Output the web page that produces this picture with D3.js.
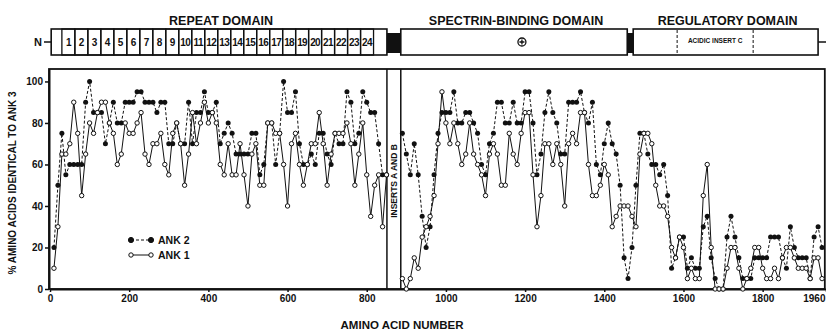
<!DOCTYPE html>
<html>
<head>
<meta charset="utf-8">
<script src="https://cdn.jsdelivr.net/npm/d3@7"></script>
<style>
  body { margin: 0; background: #fff; }
  text { font-family: "Liberation Sans", Arial, sans-serif; font-weight: bold; fill: #111; }
</style>
</head>
<body>
<div id="chart"></div>
<script>
"use strict";

// residue positions (amino acid number) of each comparison window
const posN = [10,20,30,40,50,60,70,80,90,100,110,120,130,140,150,160,170,180,190,200,
  210,220,230,240,250,260,270,280,290,300,310,320,330,340,350,360,370,380,390,400,
  410,420,430,440,450,460,470,480,490,500,510,520,530,540,550,560,570,580,590,600,
  610,620,630,640,650,660,670,680,690,700,710,720,730,740,750,760,770,780,790,800,
  810,820,830,840,850];
const ank2N = [20,50,75,55,60,60,60,60,90,100,85,85,85,70,80,90,80,80,90,90,
  90,95,95,90,90,90,85,90,90,70,70,80,70,70,90,70,85,85,95,85,
  85,90,70,75,80,75,65,65,65,65,75,75,55,60,80,80,60,75,100,85,
  85,95,70,60,60,65,60,75,75,65,60,75,70,70,95,90,70,75,95,90,
  85,85,70,55,55];
const ank1N = [10,30,65,65,70,90,75,45,65,80,75,85,90,90,80,75,60,65,80,75,
  75,80,85,65,60,70,70,75,60,55,75,80,70,50,65,85,70,80,90,80,
  85,80,60,55,70,55,55,70,55,40,65,70,50,50,80,80,75,75,60,40,
  70,75,60,50,60,70,70,85,70,50,65,75,75,75,80,70,50,65,80,55,
  35,50,55,30,55];

const posC = [890,900,910,920,930,940,950,960,970,980,990,1000,1010,1020,1030,1040,1050,1060,1070,1080,
  1090,1100,1110,1120,1130,1140,1150,1160,1170,1180,1190,1200,1210,1220,1230,1240,1250,1260,1270,1280,
  1290,1300,1310,1320,1330,1340,1350,1360,1370,1380,1390,1400,1410,1420,1430,1440,1450,1460,1470,1480,
  1490,1500,1510,1520,1530,1540,1550,1560,1570,1580,1590,1600,1610,1620,1630,1640,1650,1660,1670,1680,
  1690,1700,1710,1720,1730,1740,1750,1760,1770,1780,1790,1800,1810,1820,1830,1840,1850,1860,1870,1880,
  1890,1900,1910,1920,1930,1940,1950];
const ank2C = [75,65,55,70,55,35,20,30,55,75,85,85,85,95,80,80,85,85,80,75,
  60,55,70,75,90,90,80,80,90,80,80,95,95,80,55,65,85,95,85,80,
  65,65,90,90,90,95,85,80,90,60,55,70,80,70,65,50,15,5,20,50,
  75,75,65,60,60,55,60,45,10,15,25,25,10,15,10,10,30,35,15,5,
  0,0,25,35,25,15,5,5,5,15,15,15,15,25,25,25,15,10,30,20,
  15,15,15,5,25,30,20];
const ank1C = [5,0,5,15,10,25,30,35,45,70,95,80,70,80,70,60,65,80,65,60,
  55,45,65,70,65,50,50,75,65,60,75,85,85,55,30,45,70,70,60,70,
  60,40,70,75,70,85,85,60,45,45,50,60,55,30,35,40,40,40,35,30,
  65,75,75,70,50,40,40,35,20,15,25,20,5,10,5,5,45,60,20,0,
  0,0,10,20,20,10,0,5,10,20,20,10,5,5,10,5,15,20,20,15,
  10,10,10,5,15,15,5];

const xTicks = [0,200,400,600,800,1000,1200,1400,1600,1800,1960];
const yTicks = [0,20,40,60,80,100];

// protein domain map (amino acid numbers)
const domainNames = ["REPEAT DOMAIN", "SPECTRIN-BINDING DOMAIN", "REGULATORY DOMAIN"];
const domainStart = [3, 886, 1473];
const domainEnd = [851, 1458, 1940];
const linkerStart = [851, 1458];
const linkerEnd = [886, 1473];
const repeatLabels = ["1","2","3","4","5","6","7","8","9","10","11","12",
  "13","14","15","16","17","18","19","20","21","22","23","24"];
const repeatFirst = 30;
const repeatLength = 32.8;
const acidicInsert = [1584, 1776];
const chargeSite = 1192;
const insertAB = [851, 886];
const frameEnd = 1957;

const svgWidth = 826;
const svgHeight = 332;

const svg = d3.select("#chart")
  .append("svg")
  .attr("width", svgWidth)
  .attr("height", svgHeight)
;

const x = d3.scaleLinear().domain([0, 1960]).range([50, 826]);
const y = d3.scaleLinear().domain([0, 106]).range([289, 69]);

// ---- domain map ----
const boxTop = 29, boxH = 26, midY = 42;
const map = svg.append("g");

map.append("text")
  .attr("x", 38).attr("y", midY + 4)
  .attr("text-anchor", "middle")
  .style("font-size", "11px")
  .text("N");
map.append("line")
  .attr("x1", 44).attr("x2", x(domainStart[0]))
  .attr("y1", midY).attr("y2", midY)
  .attr("stroke", "#111").attr("stroke-width", 1.5);
map.append("line")
  .attr("x1", x(domainEnd[2])).attr("x2", 826)
  .attr("y1", midY).attr("y2", midY)
  .attr("stroke", "#111").attr("stroke-width", 1.5);

map.selectAll("rect.domain")
  .data(domainNames)
  .enter()
  .append("rect")
  .attr("class", "domain")
  .attr("x", (d, i) => x(domainStart[i]))
  .attr("y", boxTop)
  .attr("width", (d, i) => x(domainEnd[i]) - x(domainStart[i]))
  .attr("height", boxH)
  .attr("fill", "#fff")
  .attr("stroke", "#111")
  .attr("stroke-width", 1.6)
;

map.selectAll("text.dtitle")
  .data(domainNames)
  .enter()
  .append("text")
  .attr("class", "dtitle")
  .attr("x", (d, i) => (x(domainStart[i]) + x(domainEnd[i])) / 2 + 2)
  .attr("y", 24.5)
  .attr("text-anchor", "middle")
  .style("font-size", "12.5px")
  .text(d => d)
;

map.selectAll("rect.linker")
  .data(linkerStart)
  .enter()
  .append("rect")
  .attr("class", "linker")
  .attr("x", (d, i) => x(d))
  .attr("y", boxTop + 4)
  .attr("width", (d, i) => x(linkerEnd[i]) - x(d))
  .attr("height", boxH - 6)
  .attr("fill", "#111")
;

const repeats = map.selectAll("g.rep")
  .data(repeatLabels)
  .enter()
  .append("g")
  .attr("class", "rep")
;
repeats.append("rect")
  .attr("x", (d, i) => x(repeatFirst + i * repeatLength))
  .attr("y", boxTop)
  .attr("width", x(repeatLength) - x(0))
  .attr("height", boxH)
  .attr("fill", "none")
  .attr("stroke", "#111")
  .attr("stroke-width", 1.3)
;
repeats.append("text")
  .attr("x", (d, i) => x(repeatFirst + (i + 0.5) * repeatLength))
  .attr("y", midY + 3.8)
  .attr("text-anchor", "middle")
  .style("font-size", "10px")
  .style("letter-spacing", "-0.6px")
  .text(d => d)
;

map.selectAll("line.acidic")
  .data(acidicInsert)
  .enter()
  .append("line")
  .attr("class", "acidic")
  .attr("x1", d => x(d)).attr("x2", d => x(d))
  .attr("y1", boxTop + 1).attr("y2", boxTop + boxH - 1)
  .attr("stroke", "#111")
  .attr("stroke-dasharray", "3,2")
;
map.append("text")
  .attr("x", (x(acidicInsert[0]) + x(acidicInsert[1])) / 2)
  .attr("y", midY + 1)
  .attr("text-anchor", "middle")
  .style("font-size", "6.5px")
  .text("ACIDIC INSERT C");

map.append("circle")
  .attr("cx", x(chargeSite)).attr("cy", midY)
  .attr("r", 4).attr("fill", "none")
  .attr("stroke", "#111").attr("stroke-width", 1.3);
map.append("path")
  .attr("d", `M${x(chargeSite) - 2.5},${midY}H${x(chargeSite) + 2.5}M${x(chargeSite)},${midY - 2.5}V${midY + 2.5}`)
  .attr("stroke", "#111").attr("stroke-width", 1.3);

// ---- plot frame ----
svg.append("rect")
  .attr("x", x(0) - 1)
  .attr("y", y(106))
  .attr("width", x(frameEnd) - x(0) + 1)
  .attr("height", y(0) - y(106))
  .attr("fill", "none")
  .attr("stroke", "#111")
  .attr("stroke-width", 1.8)
;

svg.selectAll("line.insert")
  .data(insertAB)
  .enter()
  .append("line")
  .attr("class", "insert")
  .attr("x1", d => x(d)).attr("x2", d => x(d))
  .attr("y1", y(106)).attr("y2", y(0))
  .attr("stroke", "#111")
  .attr("stroke-width", 1.5)
;
svg.append("text")
  .attr("transform", `translate(${(x(insertAB[0]) + x(insertAB[1])) / 2 + 3}, 181) rotate(-90)`)
  .attr("text-anchor", "middle")
  .style("font-size", "8.5px")
  .text("INSERTS A AND B");

const xAxis = d3.axisBottom(x).tickValues(xTicks).tickFormat(d3.format("d"))
  .tickSize(3).tickSizeOuter(0).tickPadding(3);
const yAxis = d3.axisLeft(y).tickValues(yTicks).tickFormat(d3.format("d"))
  .tickSize(4).tickSizeOuter(0).tickPadding(2);

const gx = svg.append("g")
  .attr("transform", `translate(0, ${y(0)})`)
  .call(xAxis)
;
const gy = svg.append("g")
  .attr("transform", `translate(${x(0) - 1}, 0)`)
  .call(yAxis)
;
[gx, gy].forEach(g => {
  g.select(".domain").attr("stroke", "#111").attr("stroke-width", 2);
  g.selectAll(".tick line").attr("stroke", "#111").attr("stroke-width", 1.5);
  g.selectAll(".tick text")
    .style("font-size", "10px")
    .style("font-family", "'Liberation Sans', Arial, sans-serif")
    .style("font-weight", "bold")
    .attr("fill", "#111");
});
// the last tick sits on the right edge: keep its label inside the page
gx.selectAll(".tick text").filter(d => d === 1960)
  .attr("text-anchor", "end")
  .attr("dx", -1);

svg.append("text")
  .attr("x", 402).attr("y", 329)
  .attr("text-anchor", "middle")
  .style("font-size", "11.5px")
  .text("AMINO ACID NUMBER");
svg.append("text")
  .attr("transform", "translate(16, 183) rotate(-90)")
  .attr("text-anchor", "middle")
  .style("font-size", "10px")
  .text("% AMINO ACIDS IDENTICAL TO ANK 3");

// ---- series ----
const seriesN2 = posN.map((p, i) => ({ p: p, v: ank2N[i] }));
const seriesN1 = posN.map((p, i) => ({ p: p, v: ank1N[i] }));
const seriesC2 = posC.map((p, i) => ({ p: p, v: ank2C[i] }));
const seriesC1 = posC.map((p, i) => ({ p: p, v: ank1C[i] }));

const line = d3.line().x(d => x(d.p)).y(d => y(d.v));

[seriesN2, seriesC2].forEach(s => {
  svg.append("path")
    .datum(s)
    .attr("d", line)
    .attr("fill", "none")
    .attr("stroke", "#111")
    .attr("stroke-width", 1)
    .attr("stroke-dasharray", "3,2");
});
[seriesN1, seriesC1].forEach(s => {
  svg.append("path")
    .datum(s)
    .attr("d", line)
    .attr("fill", "none")
    .attr("stroke", "#111")
    .attr("stroke-width", 1);
});

svg.selectAll("circle.ank2")
  .data(seriesN2.concat(seriesC2))
  .enter()
  .append("circle")
  .attr("class", "ank2")
  .attr("cx", d => x(d.p))
  .attr("cy", d => y(d.v))
  .attr("r", 2.5)
  .attr("fill", "#111")
;
svg.selectAll("circle.ank1")
  .data(seriesN1.concat(seriesC1))
  .enter()
  .append("circle")
  .attr("class", "ank1")
  .attr("cx", d => x(d.p))
  .attr("cy", d => y(d.v))
  .attr("r", 2.2)
  .attr("fill", "#fff")
  .attr("stroke", "#111")
  .attr("stroke-width", 1)
;

// ---- legend ----
const legend = svg.append("g");
const legendItems = ["ANK 2", "ANK 1"];
legendItems.forEach((name, i) => {
  const ly = 240 + i * 15;
  legend.append("line")
    .attr("x1", 131).attr("x2", 151)
    .attr("y1", ly).attr("y2", ly)
    .attr("stroke", "#111")
    .attr("stroke-dasharray", i === 0 ? "3,2" : null);
  [131, 151].forEach(cx => {
    legend.append("circle")
      .attr("cx", cx).attr("cy", ly)
      .attr("r", i === 0 ? 2.6 : 2.2)
      .attr("fill", i === 0 ? "#111" : "#fff")
      .attr("stroke", "#111");
  });
  legend.append("text")
    .attr("x", 158).attr("y", ly + 4)
    .style("font-size", "10.5px")
    .text(name);
});
</script>
</body>
</html>
